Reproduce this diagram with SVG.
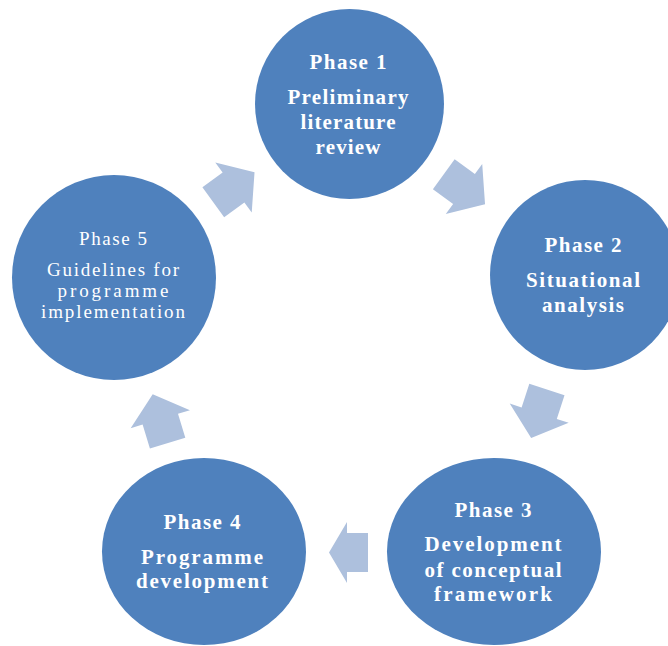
<svg xmlns="http://www.w3.org/2000/svg" width="668" height="646" viewBox="0 0 668 646">
<style>
.node{fill:#4f81bd}
.arr{fill:#adc0dd}
.t{font-family:"Liberation Serif","Times New Roman",serif;font-size:21px;font-weight:bold;fill:#ffffff;text-anchor:middle}
.r{font-family:"Liberation Serif","Times New Roman",serif;font-size:19px;font-weight:normal;fill:#ffffff;text-anchor:middle}
</style>
<defs>
<polygon id="ar" points="-25,-18.5 0,-18.5 0,-31 26,0 0,31 0,18.5 -25,18.5"/>
</defs>
<rect width="668" height="646" fill="#ffffff"/>
<g id="connectors">
<use href="#ar" class="arr" transform="translate(233.5,187.5) rotate(-36)"/>
<use href="#ar" class="arr" transform="translate(464,189) rotate(36)"/>
<use href="#ar" class="arr" transform="translate(539.2,413.2) rotate(108)"/>
<polygon class="arr" points="368,533 347,533 347,522 329,552.5 347,583 347,572 368,572"/>
<use href="#ar" class="arr" transform="translate(160.3,419.2) rotate(-107)"/>
</g>
<g id="phase1">
<ellipse class="node" cx="349.5" cy="104" rx="94.5" ry="95"/>
<text class="t" x="348" y="69" textLength="77" lengthAdjust="spacing">Phase 1</text>
<text class="t" x="348" y="104" textLength="121" lengthAdjust="spacing">Preliminary</text>
<text class="t" x="348" y="129" textLength="95" lengthAdjust="spacing">literature</text>
<text class="t" x="348" y="154" textLength="65" lengthAdjust="spacing">review</text>
</g>
<g id="phase2">
<ellipse class="node" cx="585" cy="275" rx="95" ry="95"/>
<text class="t" x="583" y="252" textLength="77" lengthAdjust="spacing">Phase 2</text>
<text class="t" x="583" y="287" textLength="114" lengthAdjust="spacing">Situational</text>
<text class="t" x="583" y="312" textLength="82" lengthAdjust="spacing">analysis</text>
</g>
<g id="phase3">
<ellipse class="node" cx="494" cy="551.5" rx="107" ry="93.5"/>
<text class="t" x="493" y="517" textLength="77" lengthAdjust="spacing">Phase 3</text>
<text class="t" x="493" y="551" textLength="137" lengthAdjust="spacing">Development</text>
<text class="t" x="493" y="577" textLength="137" lengthAdjust="spacing">of conceptual</text>
<text class="t" x="493" y="601" textLength="118" lengthAdjust="spacing">framework</text>
</g>
<g id="phase4">
<ellipse class="node" cx="204" cy="551.5" rx="102" ry="93.5"/>
<text class="t" x="202" y="529" textLength="77" lengthAdjust="spacing">Phase 4</text>
<text class="t" x="202" y="564" textLength="122" lengthAdjust="spacing">Programme</text>
<text class="t" x="202" y="588" textLength="132" lengthAdjust="spacing">development</text>
</g>
<g id="phase5">
<ellipse class="node" cx="114" cy="277.5" rx="102" ry="102.5"/>
<text class="r" x="113" y="245" textLength="68" lengthAdjust="spacing">Phase 5</text>
<text class="r" x="113" y="276" textLength="132" lengthAdjust="spacing">Guidelines for</text>
<text class="r" x="113" y="297" textLength="111" lengthAdjust="spacing">programme</text>
<text class="r" x="113" y="318" textLength="144" lengthAdjust="spacing">implementation</text>
</g>
</svg>
